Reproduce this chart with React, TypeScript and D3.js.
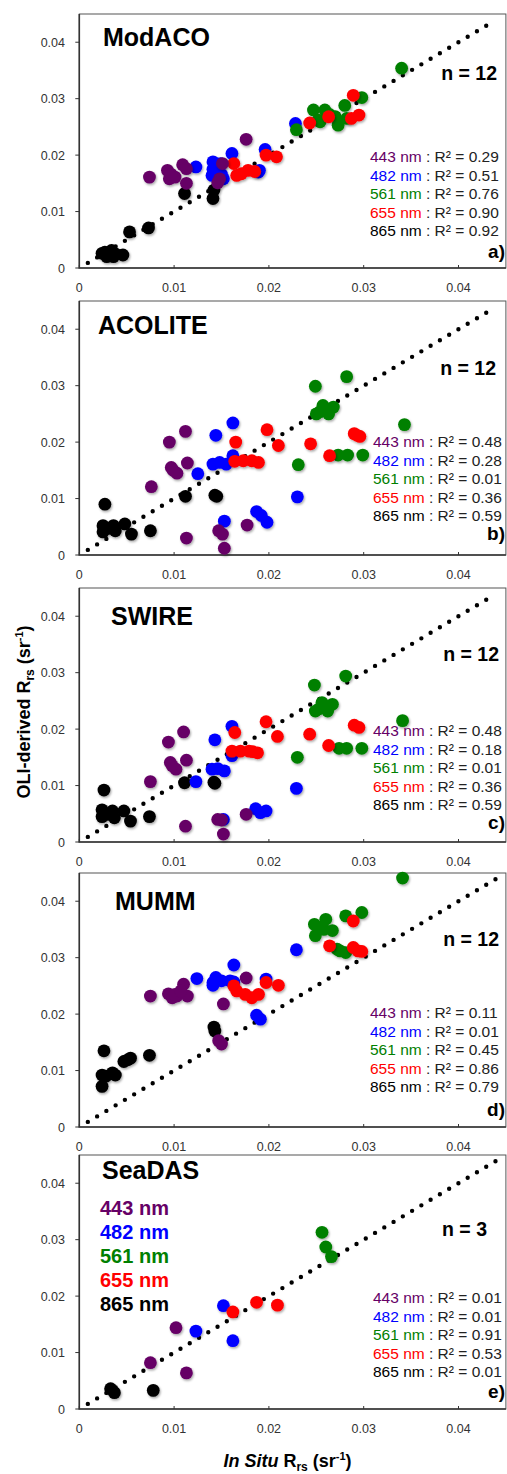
import { useRef, useEffect } from "react";
import * as d3 from "d3";

// bands (nm) and their colours
const bands = [443, 482, 561, 655, 865];
const bandColors = ["#660066", "#0000ff", "#008000", "#ff0000", "#000000"];
const drawOrder = [865, 482, 561, 655, 443];

const panelNames = ["ModACO", "ACOLITE", "SWIRE", "MUMM", "SeaDAS"];
const panelLetters = ["a)", "b)", "c)", "d)", "e)"];
const panelN = [12, 12, 12, 12, 3];

const modacoR2 = ["0.29", "0.51", "0.76", "0.90", "0.92"];
const acoliteR2 = ["0.48", "0.28", "0.01", "0.36", "0.59"];
const swireR2 = ["0.48", "0.18", "0.01", "0.36", "0.59"];
const mummR2 = ["0.11", "0.01", "0.45", "0.86", "0.79"];
const seadasR2 = ["0.01", "0.01", "0.91", "0.53", "0.01"];

const tickValues = [0, 0.01, 0.02, 0.03, 0.04];
const tickLabels = ["0", "0.01", "0.02", "0.03", "0.04"];

// [band, in situ Rrs, OLI-derived Rrs]
const modacoPts = [
  [443, 0.0074, 0.0161], [443, 0.0093, 0.0173], [443, 0.0095, 0.0158], [443, 0.0101, 0.0161],
  [443, 0.0097, 0.0166], [443, 0.0109, 0.0183], [443, 0.0113, 0.0176], [443, 0.0113, 0.015],
  [443, 0.0176, 0.0228], [443, 0.0151, 0.0185], [443, 0.0148, 0.0158], [443, 0.0146, 0.0151],
  [482, 0.0123, 0.0179], [482, 0.0141, 0.0188], [482, 0.014, 0.0164], [482, 0.015, 0.0166],
  [482, 0.0161, 0.0203], [482, 0.0196, 0.021], [482, 0.019, 0.0173], [482, 0.0189, 0.017],
  [482, 0.0228, 0.0256], [482, 0.0149, 0.0185], [482, 0.0141, 0.0175], [482, 0.0152, 0.0158],
  [561, 0.034, 0.0354], [561, 0.0298, 0.0302], [561, 0.028, 0.0288], [561, 0.0247, 0.028],
  [561, 0.0259, 0.028], [561, 0.027, 0.0268], [561, 0.0254, 0.0259], [561, 0.0273, 0.0253],
  [561, 0.0229, 0.0245], [561, 0.0282, 0.0265], [561, 0.0264, 0.0272], [561, 0.0252, 0.0262],
  [655, 0.0163, 0.0185], [655, 0.0171, 0.0167], [655, 0.0178, 0.0173], [655, 0.0185, 0.0171],
  [655, 0.0197, 0.02], [655, 0.0208, 0.0197], [655, 0.0243, 0.0257], [655, 0.0263, 0.0268],
  [655, 0.0289, 0.0306], [655, 0.0287, 0.0265], [655, 0.0295, 0.0271], [655, 0.0166, 0.0164],
  [865, 0.0024, 0.0026], [865, 0.0034, 0.0031], [865, 0.0036, 0.002], [865, 0.0029, 0.002],
  [865, 0.0046, 0.0023], [865, 0.0027, 0.0028], [865, 0.0053, 0.0064], [865, 0.0073, 0.0071],
  [865, 0.0111, 0.0132], [865, 0.0141, 0.0123], [865, 0.0142, 0.0138], [865, 0.0038, 0.0025],
];

const acolitePts = [
  [443, 0.0076, 0.0121], [443, 0.0095, 0.02], [443, 0.0097, 0.0155], [443, 0.0103, 0.0145],
  [443, 0.0112, 0.0219], [443, 0.0114, 0.0163], [443, 0.0113, 0.003], [443, 0.0147, 0.0043],
  [443, 0.0151, 0.0037], [443, 0.0153, 0.0012], [443, 0.0177, 0.0053], [443, 0.0099, 0.015],
  [482, 0.0125, 0.0144], [482, 0.0144, 0.0212], [482, 0.0162, 0.0234], [482, 0.0141, 0.0161],
  [482, 0.0148, 0.0164], [482, 0.0155, 0.0161], [482, 0.0162, 0.0176], [482, 0.0153, 0.006],
  [482, 0.0187, 0.0077], [482, 0.0192, 0.007], [482, 0.0198, 0.0058], [482, 0.023, 0.0103],
  [561, 0.0249, 0.0299], [561, 0.0282, 0.0316], [561, 0.0343, 0.0231], [561, 0.0231, 0.016],
  [561, 0.0273, 0.0177], [561, 0.0283, 0.0177], [561, 0.0299, 0.0177], [561, 0.025, 0.025],
  [561, 0.0257, 0.0265], [561, 0.0263, 0.025], [561, 0.0268, 0.0262], [561, 0.0254, 0.0254],
  [655, 0.0165, 0.02], [655, 0.0164, 0.0166], [655, 0.0173, 0.0167], [655, 0.0182, 0.0167],
  [655, 0.0189, 0.0164], [655, 0.0198, 0.0222], [655, 0.021, 0.0194], [655, 0.0244, 0.0197],
  [655, 0.0264, 0.0176], [655, 0.029, 0.0215], [655, 0.0296, 0.021], [655, 0.0293, 0.0212],
  [865, 0.0027, 0.009], [865, 0.0025, 0.0052], [865, 0.0025, 0.0041], [865, 0.0036, 0.0052],
  [865, 0.0038, 0.0043], [865, 0.0048, 0.0055], [865, 0.0055, 0.0037], [865, 0.0075, 0.0043],
  [865, 0.0112, 0.0104], [865, 0.0143, 0.0106], [865, 0.0145, 0.0104], [865, 0.0031, 0.0047],
];

const swirePts = [
  [443, 0.0075, 0.0107], [443, 0.0094, 0.0177], [443, 0.0096, 0.0141], [443, 0.0102, 0.0129],
  [443, 0.011, 0.0195], [443, 0.0113, 0.0145], [443, 0.0112, 0.0028], [443, 0.0146, 0.004],
  [443, 0.0152, 0.0014], [443, 0.0176, 0.0049], [443, 0.0098, 0.0135], [443, 0.015, 0.0039],
  [482, 0.0123, 0.0107], [482, 0.0143, 0.0181], [482, 0.0161, 0.0205], [482, 0.014, 0.0129],
  [482, 0.0146, 0.013], [482, 0.0153, 0.0126], [482, 0.0161, 0.0153], [482, 0.0152, 0.004],
  [482, 0.0186, 0.0059], [482, 0.0191, 0.0052], [482, 0.0197, 0.0055], [482, 0.0229, 0.0095],
  [561, 0.0248, 0.0278], [561, 0.0281, 0.0294], [561, 0.0341, 0.0215], [561, 0.023, 0.015],
  [561, 0.0274, 0.0166], [561, 0.0282, 0.0166], [561, 0.0298, 0.0166], [561, 0.0249, 0.0232],
  [561, 0.0256, 0.0247], [561, 0.0262, 0.0232], [561, 0.0267, 0.0244], [561, 0.0253, 0.0236],
  [655, 0.0164, 0.0194], [655, 0.0161, 0.0161], [655, 0.017, 0.0161], [655, 0.0179, 0.0161],
  [655, 0.0188, 0.0158], [655, 0.0197, 0.0213], [655, 0.0209, 0.0187], [655, 0.0243, 0.0191],
  [655, 0.0263, 0.0171], [655, 0.029, 0.0207], [655, 0.0295, 0.0203], [655, 0.0183, 0.016],
  [865, 0.0026, 0.0092], [865, 0.0024, 0.0057], [865, 0.0024, 0.0045], [865, 0.0035, 0.0055],
  [865, 0.0037, 0.0043], [865, 0.0047, 0.0055], [865, 0.0054, 0.0037], [865, 0.0074, 0.0045],
  [865, 0.0111, 0.0105], [865, 0.0142, 0.0106], [865, 0.003, 0.0049], [865, 0.0143, 0.0104],
];

const mummPts = [
  [443, 0.0075, 0.0232], [443, 0.0094, 0.0236], [443, 0.0098, 0.0229], [443, 0.0103, 0.0232],
  [443, 0.011, 0.0253], [443, 0.0114, 0.0232], [443, 0.0176, 0.0264], [443, 0.0152, 0.0218],
  [443, 0.015, 0.0147], [443, 0.0147, 0.0153], [443, 0.0101, 0.0235], [443, 0.0107, 0.0241],
  [482, 0.0124, 0.0263], [482, 0.0163, 0.0287], [482, 0.0141, 0.0251], [482, 0.0144, 0.0265],
  [482, 0.015, 0.0259], [482, 0.0159, 0.0259], [482, 0.0163, 0.0257], [482, 0.0197, 0.0262],
  [482, 0.0187, 0.0198], [482, 0.0191, 0.0191], [482, 0.0229, 0.0314], [482, 0.0141, 0.0256],
  [561, 0.0341, 0.0441], [561, 0.0281, 0.0374], [561, 0.0298, 0.038], [561, 0.0248, 0.0359],
  [561, 0.026, 0.0368], [561, 0.0267, 0.0348], [561, 0.0249, 0.0339], [561, 0.0258, 0.035],
  [561, 0.0272, 0.0315], [561, 0.0281, 0.0309], [561, 0.0275, 0.0312], [561, 0.0253, 0.0353],
  [655, 0.0166, 0.0241], [655, 0.0175, 0.0235], [655, 0.0182, 0.0229], [655, 0.0189, 0.0235],
  [655, 0.021, 0.0251], [655, 0.0163, 0.025], [655, 0.0197, 0.0256], [655, 0.0264, 0.0321],
  [655, 0.0289, 0.0318], [655, 0.0294, 0.0312], [655, 0.0298, 0.0311], [655, 0.0289, 0.0365],
  [865, 0.0026, 0.0135], [865, 0.0024, 0.0092], [865, 0.0024, 0.0072], [865, 0.0035, 0.0096],
  [865, 0.0038, 0.0092], [865, 0.0047, 0.0116], [865, 0.0054, 0.0122], [865, 0.0074, 0.0127],
  [865, 0.0142, 0.0177], [865, 0.0143, 0.017], [865, 0.0051, 0.0119], [865, 0.0028, 0.009],
];

const seadasPts = [
  [443, 0.0075, 0.0082], [443, 0.0102, 0.0144], [443, 0.0113, 0.0064],
  [482, 0.0152, 0.0183], [482, 0.0123, 0.0138], [482, 0.0162, 0.0121],
  [561, 0.0256, 0.0313], [561, 0.026, 0.0287], [561, 0.0266, 0.027],
  [655, 0.0162, 0.0172], [655, 0.0187, 0.0189], [655, 0.0209, 0.0184],
  [865, 0.0033, 0.0036], [865, 0.0037, 0.0029], [865, 0.0078, 0.0033],
];

const panelPts = [modacoPts, acolitePts, swirePts, mummPts, seadasPts];
const panelR2 = [modacoR2, acoliteR2, swireR2, mummR2, seadasR2];

// layout
const panelTops = [14, 301, 588, 873, 1155];
const panelH = 254;
const titleX = [103, 98, 111, 115, 102];
const titleDy = [32, 33, 37, 37, 24];
const nRight = [497, 496, 499, 499, 487];
const nDy = [66, 74, 73, 73, 81];
const legX = [370, 373, 373, 370, 373];
const legDy = [148, 146, 148, 145, 148];
const letterDy = [244, 239, 241, 243, 243];

const FONT = "'Liberation Sans', Arial, Helvetica, sans-serif";

export default function App() {
  const ref = useRef<SVGSVGElement>(null);
  useEffect(() => {
    const svg = d3.select(ref.current);
    svg.selectAll("*").remove();
    svg.style("font-family", FONT);

    const f = svg
      .append("defs")
      .append("filter")
      .attr("id", "shadow")
      .attr("x", "-50%")
      .attr("y", "-50%")
      .attr("width", "200%")
      .attr("height", "200%");
    f.append("feDropShadow")
      .attr("dx", 1)
      .attr("dy", 1.5)
      .attr("stdDeviation", 1.2)
      .attr("flood-color", "#000")
      .attr("flood-opacity", 0.35);

    const color = d3.scaleOrdinal<number, string>().domain(bands).range(bandColors);
    const x = d3.scaleLinear().domain([0, 0.045]).range([79.3, 505.9]);

    panelNames.forEach((name, i) => {
      const top = panelTops[i];
      const y = d3.scaleLinear().domain([0, 0.045]).range([top + panelH, top]);
      const g = svg.append("g");

      // frame
      g.append("rect")
        .attr("x", x(0))
        .attr("y", top)
        .attr("width", x(0.045) - x(0))
        .attr("height", panelH)
        .attr("fill", "none")
        .attr("stroke", "#555")
        .attr("stroke-width", 1);
      g.append("path")
        .attr("d", `M${x(0)},${top}V${y(0)}H${x(0.045)}`)
        .attr("fill", "none")
        .attr("stroke", "#333")
        .attr("stroke-width", 1.6);

      // ticks
      g.selectAll(".yt")
        .data(tickValues)
        .join("line")
        .attr("x1", x(0) - 4)
        .attr("x2", x(0))
        .attr("y1", (d) => y(d))
        .attr("y2", (d) => y(d))
        .attr("stroke", "#333");
      g.selectAll(".xt")
        .data(tickValues)
        .join("line")
        .attr("x1", (d) => x(d))
        .attr("x2", (d) => x(d))
        .attr("y1", y(0))
        .attr("y2", y(0) - 3)
        .attr("stroke", "#333");
      g.selectAll(".yl")
        .data(tickValues)
        .join("text")
        .attr("x", 65)
        .attr("y", (d) => y(d) + 4.5)
        .attr("text-anchor", "end")
        .attr("font-size", 12.5)
        .attr("fill", "#333")
        .text((d, j) => tickLabels[j]);
      g.selectAll(".xl")
        .data(tickValues)
        .join("text")
        .attr("x", (d) => x(d))
        .attr("y", y(0) + 24)
        .attr("text-anchor", "middle")
        .attr("font-size", 12.5)
        .attr("fill", "#333")
        .text((d, j) => tickLabels[j]);

      // 1:1 line, dotted
      const x1 = x(0.0009), y1 = y(0.0009), x2 = x(0.0439), y2 = y(0.0439);
      const len = Math.hypot(x2 - x1, y2 - y1);
      g.append("line")
        .attr("x1", x1)
        .attr("y1", y1)
        .attr("x2", x2)
        .attr("y2", y2)
        .attr("stroke", "#000")
        .attr("stroke-width", 4.4)
        .attr("stroke-linecap", "round")
        .attr("stroke-dasharray", `0 ${len / 44}`);

      // points
      const pts = panelPts[i];
      drawOrder.forEach((b) => {
        g.append("g")
          .attr("filter", "url(#shadow)")
          .selectAll("circle")
          .data(pts.filter((p) => p[0] === b))
          .join("circle")
          .attr("cx", (d) => x(d[1]))
          .attr("cy", (d) => y(d[2]))
          .attr("r", 6.4)
          .attr("fill", color(b));
      });

      // title and n
      g.append("text")
        .attr("x", titleX[i])
        .attr("y", top + titleDy[i])
        .attr("font-size", 25)
        .attr("font-weight", "bold")
        .text(name);
      g.append("text")
        .attr("x", nRight[i])
        .attr("y", top + nDy[i])
        .attr("text-anchor", "end")
        .attr("font-size", 19.5)
        .attr("font-weight", "bold")
        .text(`n = ${panelN[i]}`);
      g.append("text")
        .attr("x", 505)
        .attr("y", top + letterDy[i])
        .attr("text-anchor", "end")
        .attr("font-size", 19)
        .attr("font-weight", "bold")
        .text(panelLetters[i]);

      // R2 legend
      bands.forEach((b, j) => {
        const t = g
          .append("text")
          .attr("x", legX[i])
          .attr("y", top + legDy[i] + j * 18.5)
          .attr("font-size", 15.5);
        t.append("tspan").attr("fill", color(b)).text(`${b} nm`);
        t.append("tspan").attr("fill", "#222").text(` : R\u00b2 = ${panelR2[i][j]}`);
      });

      // band key in last panel
      if (i === 4) {
        bands.forEach((b, j) => {
          g.append("text")
            .attr("x", 100)
            .attr("y", top + 60 + j * 24)
            .attr("font-size", 20)
            .attr("font-weight", "bold")
            .attr("fill", color(b))
            .text(`${b} nm`);
        });
      }
    });

    // axis titles
    const yt = svg
      .append("text")
      .attr("transform", "translate(30,712) rotate(-90)")
      .attr("text-anchor", "middle")
      .attr("font-size", 18)
      .attr("font-weight", "bold");
    yt.append("tspan").text("OLI-derived R");
    yt.append("tspan").attr("font-size", 12).attr("dy", 4).text("rs");
    yt.append("tspan").attr("dy", -4).text(" (sr");
    yt.append("tspan").attr("font-size", 11).attr("dy", -7).text("-1");
    yt.append("tspan").attr("dy", 7).text(")");

    const xt = svg
      .append("text")
      .attr("x", 287.5)
      .attr("y", 1467)
      .attr("text-anchor", "middle")
      .attr("font-size", 18)
      .attr("font-weight", "bold");
    xt.append("tspan").attr("font-style", "italic").text("In Situ");
    xt.append("tspan").text(" R");
    xt.append("tspan").attr("font-size", 12).attr("dy", 4).text("rs");
    xt.append("tspan").attr("dy", -4).text(" (sr");
    xt.append("tspan").attr("font-size", 11).attr("dy", -7).text("-1");
    xt.append("tspan").attr("dy", 7).text(")");
  }, []);

  return (
    <svg
      ref={ref}
      width={507}
      height={1474}
      style={{ position: "absolute", left: 0, top: 0, background: "#fff" }}
    />
  );
}
